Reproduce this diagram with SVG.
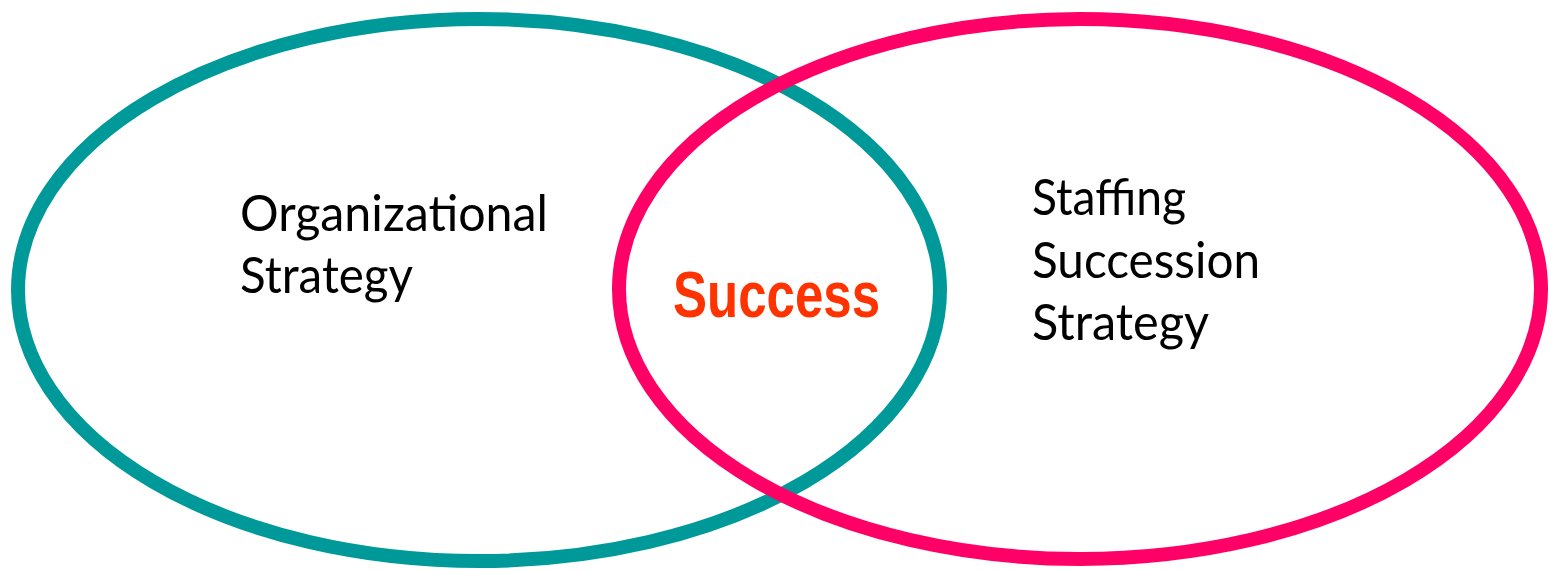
<svg xmlns="http://www.w3.org/2000/svg" width="1551" height="571" viewBox="0 0 1551 571">
<style>
.ring{fill:none;stroke-width:14}
.lbl{font-family:Lato,"Open Sans",sans-serif;font-size:50px;fill:#000}
.mid{font-family:"Liberation Sans",Arial,sans-serif;font-weight:bold;font-size:64px;fill:#FF3300}
</style>
<rect width="1551" height="571" fill="#fff"/>
<g id="org">
<ellipse class="ring" cx="479" cy="290" rx="461" ry="271" stroke="#009999"/>
<text class="lbl" x="240" y="231" textLength="308" lengthAdjust="spacingAndGlyphs">Organizational</text>
<text class="lbl" x="240" y="293" textLength="173" lengthAdjust="spacingAndGlyphs">Strategy</text>
</g>
<g id="staff">
<ellipse class="ring" cx="1080" cy="289" rx="461" ry="270" stroke="#FF0066"/>
<text class="lbl" x="1032" y="215" textLength="154" lengthAdjust="spacingAndGlyphs">Staffing</text>
<text class="lbl" x="1032" y="278" textLength="228" lengthAdjust="spacingAndGlyphs">Succession</text>
<text class="lbl" x="1032" y="340" textLength="177" lengthAdjust="spacingAndGlyphs">Strategy</text>
</g>
<g id="success">
<text class="mid" x="673" y="317" textLength="207" lengthAdjust="spacingAndGlyphs">Success</text>
</g>
<g id="connectors"/>
</svg>
